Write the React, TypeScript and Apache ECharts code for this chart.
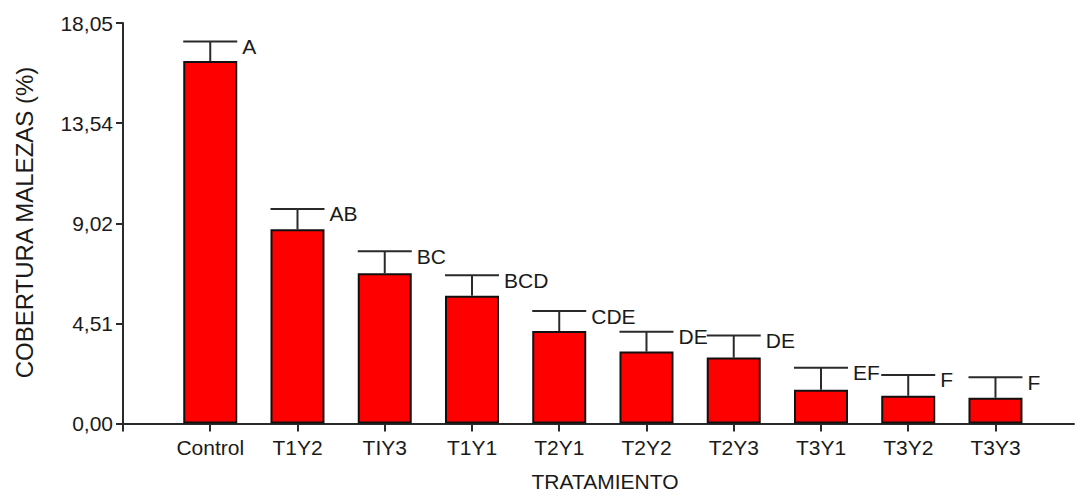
import React, { useEffect, useRef } from "react";
import * as echarts from "echarts";

// Treatments along the x axis
const categories = ["Control", "T1Y2", "TIY3", "T1Y1", "T2Y1", "T2Y2", "T2Y3", "T3Y1", "T3Y2", "T3Y3"];
// Mean weed cover (%) per treatment
const means = [16.34, 8.75, 6.77, 5.76, 4.17, 3.24, 2.97, 1.52, 1.25, 1.16];
// Upper end of the error bar (mean + error)
const upper = [17.22, 9.67, 7.76, 6.68, 5.07, 4.14, 3.97, 2.51, 2.19, 2.08];
// Significance letters
const letters = ["A", "AB", "BC", "BCD", "CDE", "DE", "DE", "EF", "F", "F"];
// Y axis tick values
const yTicks = [0, 4.51, 9.02, 13.54, 18.05];

const FONT = "Liberation Sans, Arial, sans-serif";
const TEXT = "#1a1a1a";
const LINE = "#2a2a2a";
const BAR_W = 54;

export default function App() {
  const ref = useRef<HTMLDivElement>(null);

  useEffect(() => {
    if (!ref.current) return;
    const chart = echarts.init(ref.current, null, { renderer: "svg" });
    const xs = categories.map((_, i) => i + 1);

    chart.setOption({
      animation: false,
      backgroundColor: "#ffffff",
      grid: { left: 123, top: 23, width: 951, height: 400.5, containLabel: false },
      xAxis: {
        type: "value",
        min: 0,
        max: 10.9,
        splitLine: { show: false },
        axisLine: { show: true, lineStyle: { color: LINE, width: 2 } },
        axisTick: { show: true, length: 8, lineStyle: { color: LINE, width: 2 }, customValues: [0, ...xs] },
        axisLabel: {
          customValues: xs,
          margin: 13,
          fontFamily: FONT,
          fontSize: 21,
          color: TEXT,
          formatter: (v: number) => categories[Math.round(v) - 1] ?? "",
        },
      },
      yAxis: {
        type: "value",
        min: 0,
        max: 18.05,
        splitLine: { show: false },
        axisLine: { show: true, lineStyle: { color: LINE, width: 2 } },
        axisTick: { show: true, length: 7, lineStyle: { color: LINE, width: 2 }, customValues: yTicks },
        axisLabel: {
          customValues: yTicks,
          margin: 10,
          fontFamily: FONT,
          fontSize: 21,
          color: TEXT,
          formatter: (v: number) => v.toFixed(2).replace(".", ","),
        },
      },
      graphic: [
        {
          type: "text",
          x: 605,
          y: 481.5,
          style: {
            text: "TRATAMIENTO",
            font: `21px ${FONT}`,
            fill: TEXT,
            align: "center",
            verticalAlign: "middle",
          },
        },
        {
          type: "text",
          x: 24,
          y: 222.5,
          rotation: Math.PI / 2,
          style: {
            text: "COBERTURA MALEZAS (%)",
            font: `24px ${FONT}`,
            fill: TEXT,
            align: "center",
            verticalAlign: "middle",
          },
        },
      ],
      series: [
        {
          type: "bar",
          barWidth: BAR_W,
          data: means.map((m, i) => [xs[i], m]),
          itemStyle: { color: "#ff0000", borderColor: "#111111", borderWidth: 2 },
          z: 2,
        },
        {
          type: "custom",
          data: means.map((m, i) => [xs[i], m, upper[i]]),
          z: 3,
          renderItem: (params: any, api: any) => {
            const x = api.value(0);
            const base = api.coord([x, api.value(1)]);
            const top = api.coord([x, api.value(2)]);
            const half = BAR_W / 2;
            return {
              type: "group",
              children: [
                {
                  type: "line",
                  shape: { x1: base[0], y1: base[1], x2: top[0], y2: top[1] },
                  style: { stroke: LINE, lineWidth: 2 },
                },
                {
                  type: "line",
                  shape: { x1: top[0] - half, y1: top[1], x2: top[0] + half, y2: top[1] },
                  style: { stroke: LINE, lineWidth: 2 },
                },
                {
                  type: "text",
                  x: top[0] + half + 5,
                  y: top[1] + 5,
                  style: {
                    text: letters[params.dataIndex],
                    font: `21px ${FONT}`,
                    fill: TEXT,
                    align: "left",
                    verticalAlign: "middle",
                  },
                },
              ],
            };
          },
        },
      ],
    });

    return () => chart.dispose();
  }, []);

  return (
    <div
      ref={ref}
      style={{ position: "fixed", left: 0, top: 0, width: 1076, height: 493, background: "#fff" }}
    />
  );
}
